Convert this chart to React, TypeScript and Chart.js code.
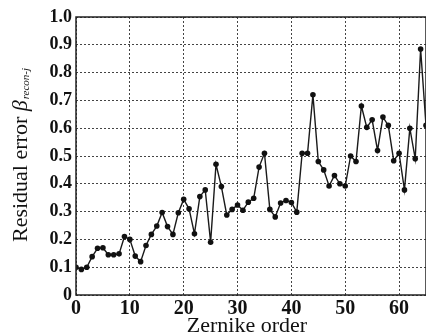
import React, { useEffect, useRef } from "react";
import { Chart, registerables } from "chart.js";

Chart.register(...registerables);

const orders = [
  0, 1, 2, 3, 4, 5, 6, 7, 8, 9, 10, 11, 12, 13, 14, 15, 16, 17, 18, 19, 20,
  21, 22, 23, 24, 25, 26, 27, 28, 29, 30, 31, 32, 33, 34, 35, 36, 37, 38, 39,
  40, 41, 42, 43, 44, 45, 46, 47, 48, 49, 50, 51, 52, 53, 54, 55, 56, 57, 58,
  59, 60, 61, 62, 63, 64, 65,
];

const residual = [
  0.1, 0.092, 0.1, 0.138, 0.168, 0.17, 0.145, 0.145, 0.148, 0.21, 0.2, 0.14,
  0.12, 0.178, 0.218, 0.248, 0.297, 0.246, 0.218, 0.296, 0.344, 0.31, 0.22,
  0.354, 0.378, 0.19, 0.47, 0.39, 0.288, 0.308, 0.324, 0.305, 0.334, 0.348,
  0.46, 0.51, 0.308, 0.281, 0.331, 0.34, 0.333, 0.298, 0.51, 0.51, 0.72, 0.48,
  0.45, 0.392, 0.43, 0.4, 0.392, 0.5, 0.48, 0.68, 0.603, 0.63, 0.52, 0.64,
  0.61, 0.483, 0.51, 0.378, 0.6, 0.49, 0.885, 0.61,
];

const xTicks = [0, 10, 20, 30, 40, 50, 60];
const yTicks = [0, 0.1, 0.2, 0.3, 0.4, 0.5, 0.6, 0.7, 0.8, 0.9, 1.0];

const xTitle = "Zernike order";
const yTitleMain = "Residual error ";
const yTitleSymbol = "β";
const yTitleSub = "recon-j";

const SERIF = "'Liberation Serif', 'Times New Roman', serif";

const framePlugin = {
  id: "frameAndTitles",
  afterDraw(chart: any) {
    const { ctx, chartArea } = chart;
    ctx.save();
    ctx.strokeStyle = "#222";
    ctx.lineWidth = 1.5;
    ctx.setLineDash([]);
    ctx.strokeRect(
      chartArea.left,
      chartArea.top,
      chartArea.right - chartArea.left,
      chartArea.bottom - chartArea.top
    );
    // x title
    ctx.fillStyle = "#111";
    ctx.font = `22px ${SERIF}`;
    ctx.textAlign = "center";
    ctx.textBaseline = "middle";
    ctx.fillText(xTitle, 247, 326);
    // y title (rotated)
    ctx.translate(21, 155);
    ctx.rotate(-Math.PI / 2);
    ctx.textAlign = "left";
    ctx.textBaseline = "middle";
    const mainFont = `22px ${SERIF}`;
    const symFont = `italic 22px ${SERIF}`;
    const subFont = `italic 11px ${SERIF}`;
    ctx.font = mainFont;
    const w1 = ctx.measureText(yTitleMain).width;
    ctx.font = symFont;
    const w2 = ctx.measureText(yTitleSymbol).width;
    ctx.font = subFont;
    const w3 = ctx.measureText(yTitleSub).width;
    const total = w1 + w2 + 1 + w3;
    let x = -total / 2;
    ctx.font = mainFont;
    ctx.fillText(yTitleMain, x, 0);
    x += w1;
    ctx.font = symFont;
    ctx.fillText(yTitleSymbol, x, 0);
    x += w2 + 1;
    ctx.font = subFont;
    ctx.fillText(yTitleSub, x, 5);
    ctx.restore();
  },
};

export default function App() {
  const ref = useRef<HTMLCanvasElement>(null);
  useEffect(() => {
    if (!ref.current) return;
    const chart = new Chart(ref.current, {
      type: "line",
      data: {
        datasets: [
          {
            data: orders.map((o, i) => ({ x: o, y: residual[i] })),
            borderColor: "#1a1a1a",
            backgroundColor: "#111",
            borderWidth: 1.4,
            pointRadius: 2.8,
            pointBorderWidth: 0,
            pointBackgroundColor: "#111",
            tension: 0,
          },
        ],
      },
      options: {
        responsive: false,
        animation: false,
        layout: { autoPadding: false, padding: { top: 17, right: 0, left: 0, bottom: 0 } },
        plugins: { legend: { display: false }, tooltip: { enabled: false } },
        scales: {
          x: {
            type: "linear",
            min: 0,
            max: 65,
            afterBuildTicks: (scale: any) => {
              scale.ticks = xTicks.map((v) => ({ value: v }));
            },
            afterFit: (scale: any) => {
              scale.height = 41;
            },
            grid: {
              color: "#444",
              lineWidth: 1,
              drawTicks: false,
            },
            border: { display: false, dash: [2, 2] },
            ticks: {
              padding: 2,
              color: "#111",
              font: { family: SERIF, size: 20, weight: "bold" },
              maxRotation: 0,
              autoSkip: false,
            },
            title: { display: false },
          },
          y: {
            type: "linear",
            min: 0,
            max: 1,
            afterBuildTicks: (scale: any) => {
              scale.ticks = yTicks.map((v) => ({ value: v }));
            },
            afterFit: (scale: any) => {
              scale.width = 76;
            },
            grid: {
              color: "#444",
              lineWidth: 1,
              drawTicks: false,
            },
            border: { display: false, dash: [2, 2] },
            ticks: {
              padding: 4,
              color: "#111",
              font: { family: SERIF, size: 18, weight: "bold" },
              callback: (v: any) => (v === 0 ? "0" : Number(v).toFixed(1)),
            },
            title: { display: false },
          },
        },
      },
      plugins: [framePlugin],
    });
    return () => chart.destroy();
  }, []);
  return (
    <div style={{ position: "absolute", left: 0, top: 0, width: 426, height: 336 }}>
      <canvas ref={ref} width={426} height={336} style={{ display: "block" }} />
    </div>
  );
}
